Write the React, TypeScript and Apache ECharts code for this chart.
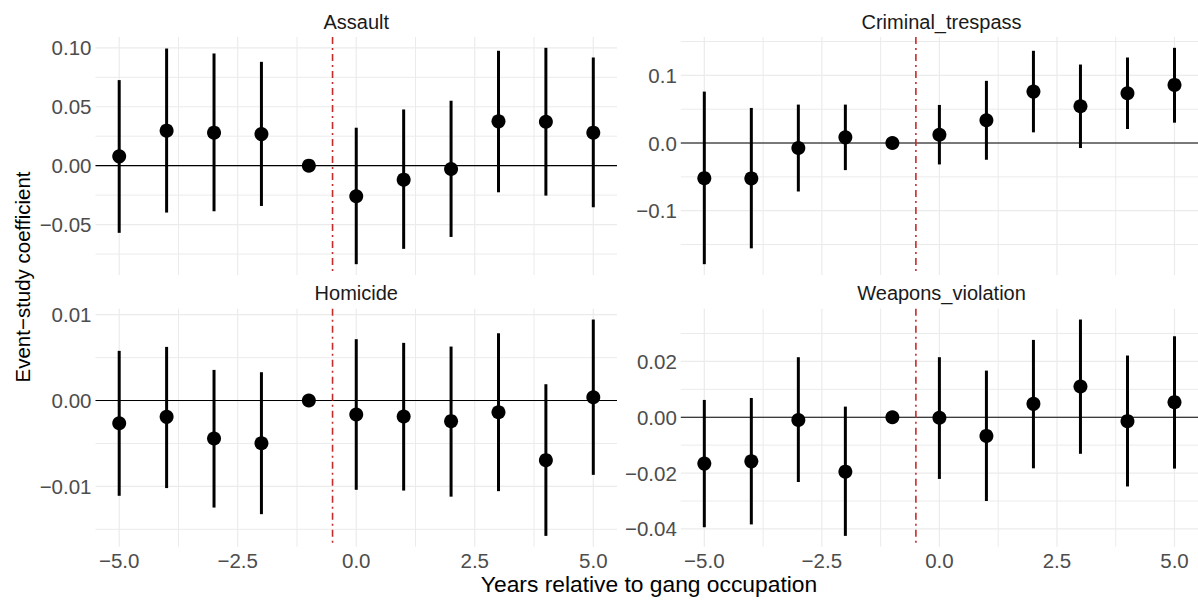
import React, { useEffect, useRef } from "react";
import * as echarts from "echarts";

const years = [-5, -4, -3, -2, -1, 0, 1, 2, 3, 4, 5];
const panelTitles = ["Assault", "Criminal_trespass", "Homicide", "Weapons_violation"];

const assaultEst = [0.0079, 0.0297, 0.028, 0.0268, 0, -0.026, -0.0119, -0.0028, 0.0376, 0.0373, 0.028];
const assaultLo = [-0.057, -0.0398, -0.0387, -0.0342, null, -0.0836, -0.0706, -0.0605, -0.0226, -0.0254, -0.0353];
const assaultHi = [0.0726, 0.0994, 0.0952, 0.0881, null, 0.0322, 0.0477, 0.0551, 0.0975, 0.1, 0.0918];

const trespassEst = [-0.0519, -0.0523, -0.0074, 0.0084, 0, 0.0123, 0.0336, 0.076, 0.0543, 0.0736, 0.0859];
const trespassLo = [-0.179, -0.1556, -0.0716, -0.04, null, -0.0316, -0.0247, 0.0158, -0.0074, 0.0207, 0.0301];
const trespassHi = [0.076, 0.0519, 0.0568, 0.0568, null, 0.0563, 0.0919, 0.1363, 0.116, 0.1264, 0.1407];

const homicideEst = [-0.00264, -0.0019, -0.00443, -0.00497, 0, -0.00163, -0.00186, -0.0024, -0.00136, -0.00695, 0.00039];
const homicideLo = [-0.0111, -0.0102, -0.01247, -0.01324, null, -0.0104, -0.01049, -0.0112, -0.01056, -0.01577, -0.00866];
const homicideHi = [0.00579, 0.00625, 0.00357, 0.0033, null, 0.00715, 0.00672, 0.00629, 0.00784, 0.0019, 0.00944];

const weaponsEst = [-0.0166, -0.0158, -0.001, -0.0195, 0, -0.0002, -0.0067, 0.0048, 0.011, -0.0014, 0.0054];
const weaponsLo = [-0.0394, -0.0384, -0.0232, -0.0425, null, -0.0221, -0.03, -0.0183, -0.0131, -0.0248, -0.0184];
const weaponsHi = [0.0062, 0.0069, 0.0215, 0.0038, null, 0.0215, 0.0167, 0.0277, 0.035, 0.0221, 0.029];

const xTicks = [-5, -2.5, 0, 2.5, 5];
const xMinor = [-3.75, -1.25, 1.25, 3.75];

const assaultTicks = [-0.05, 0, 0.05, 0.1];
const assaultMinor = [-0.075, -0.025, 0.025, 0.075];
const trespassTicks = [-0.1, 0, 0.1];
const trespassMinor = [-0.15, -0.05, 0.05, 0.15];
const homicideTicks = [-0.01, 0, 0.01];
const homicideMinor = [-0.015, -0.005, 0.005];
const weaponsTicks = [-0.04, -0.02, 0, 0.02];
const weaponsMinor = [-0.03, -0.01, 0.01, 0.03];

const eventLine = -0.5;

const panels = [
  { est: assaultEst, lo: assaultLo, hi: assaultHi, ticks: assaultTicks, minor: assaultMinor, dec: 2 },
  { est: trespassEst, lo: trespassLo, hi: trespassHi, ticks: trespassTicks, minor: trespassMinor, dec: 1 },
  { est: homicideEst, lo: homicideLo, hi: homicideHi, ticks: homicideTicks, minor: homicideMinor, dec: 2 },
  { est: weaponsEst, lo: weaponsLo, hi: weaponsHi, ticks: weaponsTicks, minor: weaponsMinor, dec: 2 },
];

const gridRects = [
  { left: 95.5, top: 37, width: 521.5, height: 238 },
  { left: 680.8, top: 37, width: 521.5, height: 238 },
  { left: 95.5, top: 308.7, width: 521.5, height: 238 },
  { left: 680.8, top: 308.7, width: 521.5, height: 238 },
];

const FONT = "'Liberation Sans', Arial, Helvetica, sans-serif";

function fmt(v: number, d: number) {
  const s = Math.abs(v) < 1e-12 ? (0).toFixed(d) : v.toFixed(d);
  return s.replace("-", "\u2212");
}

export default function App() {
  const ref = useRef<HTMLDivElement>(null);
  useEffect(() => {
    if (!ref.current) return;
    const chart = echarts.init(ref.current, null, { renderer: "svg" });

    const grid: any[] = [];
    const xAxis: any[] = [];
    const yAxis: any[] = [];
    const series: any[] = [];
    const graphic: any[] = [];

    panels.forEach((p, i) => {
      const r = gridRects[i];
      grid.push({ left: r.left, top: r.top, width: r.width, height: r.height, containLabel: false });
      const vals: number[] = [];
      p.est.forEach((v) => vals.push(v));
      p.lo.forEach((v) => v != null && vals.push(v as number));
      p.hi.forEach((v) => v != null && vals.push(v as number));
      const lo = Math.min(...vals);
      const hi = Math.max(...vals);
      const pad = (hi - lo) * 0.05;
      const xLo = Math.min(...years);
      const xHi = Math.max(...years);
      const xPad = (xHi - xLo) * 0.05;
      const bottom = i >= 2;
      xAxis.push({
        type: "value",
        gridIndex: i,
        min: xLo - xPad,
        max: xHi + xPad,
        axisLine: { show: false },
        axisTick: { show: false, customValues: xTicks },
        splitLine: { show: false },
        axisLabel: {
          show: bottom,
          customValues: xTicks,
          formatter: (v: number) => fmt(v, 1),
          color: "#4D4D4D",
          fontSize: 20.5,
          lineHeight: 18,
          fontFamily: FONT,
          margin: 5,
        },
      });
      yAxis.push({
        type: "value",
        gridIndex: i,
        min: lo - pad,
        max: hi + pad,
        axisLine: { show: false },
        axisTick: { show: false, customValues: p.ticks },
        splitLine: { show: false },
        axisLabel: {
          customValues: p.ticks,
          formatter: (v: number) => fmt(v, p.dec),
          color: "#4D4D4D",
          fontSize: 20.5,
          fontFamily: FONT,
          margin: 4,
        },
      });

      // gridlines
      series.push({
        type: "custom",
        xAxisIndex: i,
        yAxisIndex: i,
        silent: true,
        z: 1,
        data: [[0, 0]],
        renderItem: (params: any, api: any) => {
          const cs = params.coordSys;
          const children: any[] = [];
          const addV = (xv: number, w: number) => {
            const x = api.coord([xv, 0])[0];
            children.push({
              type: "line",
              shape: { x1: x, y1: cs.y, x2: x, y2: cs.y + cs.height },
              style: { stroke: "#EBEBEB", lineWidth: w },
            });
          };
          const addH = (yv: number, w: number) => {
            const y = api.coord([0, yv])[1];
            children.push({
              type: "line",
              shape: { x1: cs.x, y1: y, x2: cs.x + cs.width, y2: y },
              style: { stroke: "#EBEBEB", lineWidth: w },
            });
          };
          xMinor.forEach((v) => addV(v, 1));
          p.minor.forEach((v) => addH(v, 1));
          xTicks.forEach((v) => addV(v, 1.2));
          p.ticks.forEach((v) => addH(v, 1.2));
          return { type: "group", children };
        },
      });

      // reference lines
      series.push({
        type: "custom",
        xAxisIndex: i,
        yAxisIndex: i,
        silent: true,
        z: 2,
        data: [[0, 0]],
        renderItem: (params: any, api: any) => {
          const cs = params.coordSys;
          const y0 = api.coord([0, 0])[1];
          const xv = api.coord([eventLine, 0])[0];
          return {
            type: "group",
            children: [
              {
                type: "line",
                shape: { x1: cs.x, y1: y0, x2: cs.x + cs.width, y2: y0 },
                style: { stroke: "#000000", lineWidth: 1.1 },
              },
              {
                type: "line",
                shape: { x1: xv, y1: cs.y, x2: xv, y2: cs.y + cs.height },
                style: { stroke: "#C42B2B", lineWidth: 1.6, lineDash: [7, 4, 2, 4] },
              },
            ],
          };
        },
      });

      // error bars
      const barData: any[] = [];
      years.forEach((yr, k) => {
        if (p.lo[k] != null && p.hi[k] != null) barData.push([yr, p.lo[k], p.hi[k]]);
      });
      series.push({
        type: "custom",
        xAxisIndex: i,
        yAxisIndex: i,
        silent: true,
        z: 3,
        data: barData,
        encode: { x: 0, y: [1, 2] },
        renderItem: (params: any, api: any) => {
          const a = api.coord([api.value(0), api.value(1)]);
          const b = api.coord([api.value(0), api.value(2)]);
          return {
            type: "line",
            shape: { x1: a[0], y1: a[1], x2: b[0], y2: b[1] },
            style: { stroke: "#000000", lineWidth: 3, lineCap: "butt" },
          };
        },
      });

      // points
      series.push({
        type: "scatter",
        xAxisIndex: i,
        yAxisIndex: i,
        z: 4,
        symbol: "circle",
        symbolSize: 14,
        itemStyle: { color: "#000000", opacity: 1 },
        data: years.map((yr, k) => [yr, p.est[k]]),
      });

      graphic.push({
        type: "text",
        x: r.left + r.width / 2,
        y: r.top - 15.5,
        style: {
          text: panelTitles[i],
          fontSize: 20,
          fontFamily: FONT,
          fill: "#1A1A1A",
          textAlign: "center",
          textVerticalAlign: "middle",
        },
      });
    });

    graphic.push({
      type: "text",
      x: 649,
      y: 584,
      style: {
        text: "Years relative to gang occupation",
        fontSize: 22.8,
        lineHeight: 20,
        fontFamily: FONT,
        fill: "#000000",
        textAlign: "center",
        textVerticalAlign: "middle",
      },
    });
    graphic.push({
      type: "text",
      x: 22,
      y: 277,
      rotation: Math.PI / 2,
      style: {
        text: "Event\u2212study coefficient",
        fontSize: 20.5,
        fontFamily: FONT,
        fill: "#000000",
        textAlign: "center",
        textVerticalAlign: "middle",
      },
    });

    chart.setOption({
      animation: false,
      backgroundColor: "#FFFFFF",
      grid,
      xAxis,
      yAxis,
      series,
      graphic,
    });
    return () => chart.dispose();
  }, []);

  return (
    <div
      ref={ref}
      style={{ position: "absolute", left: 0, top: 0, width: 1198, height: 600 }}
    />
  );
}
